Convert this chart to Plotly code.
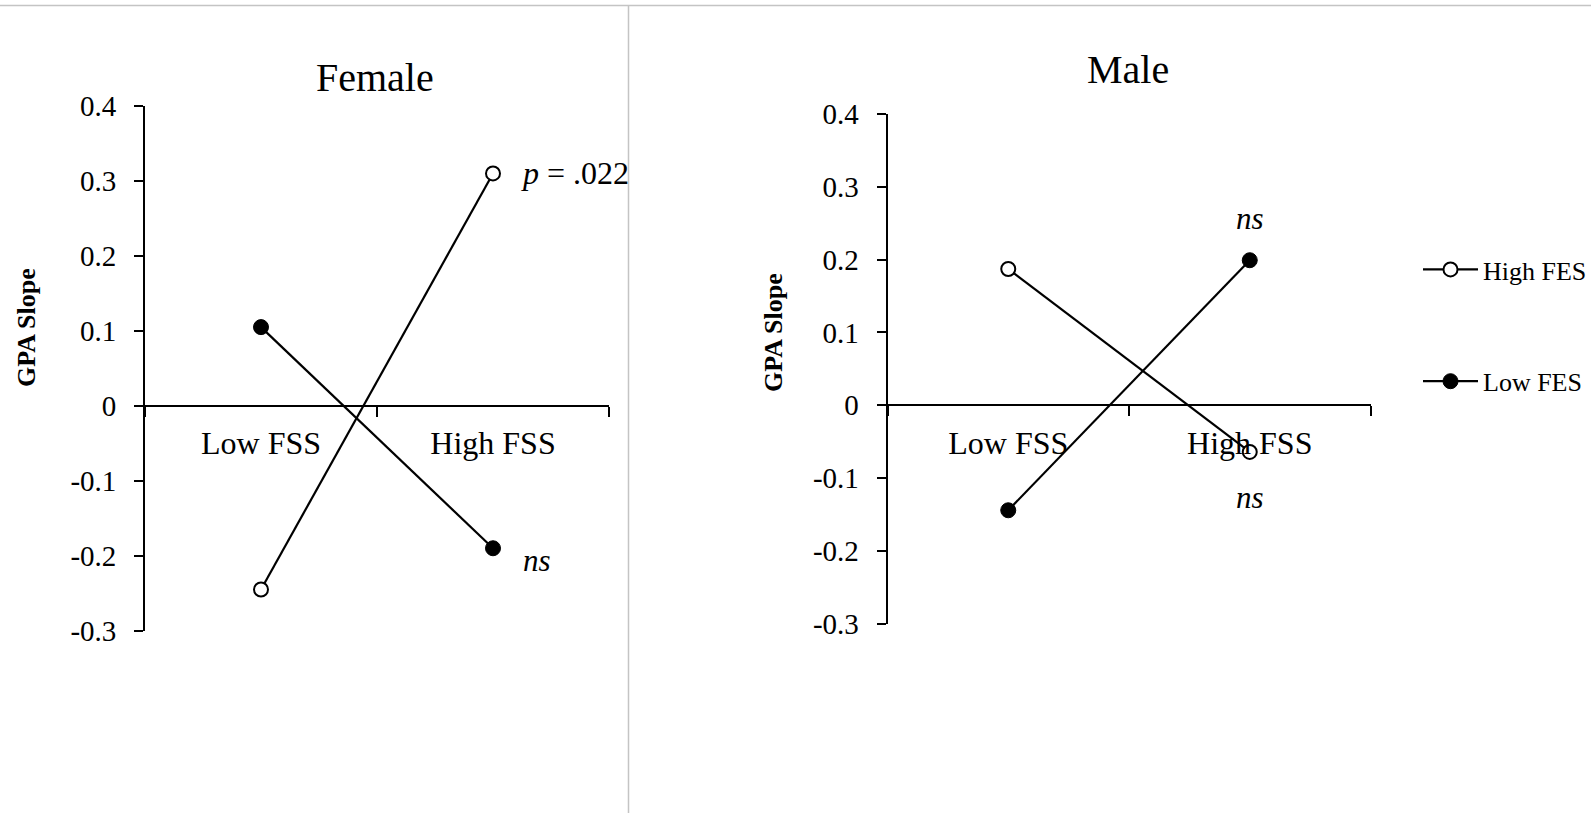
import plotly.graph_objects as go

# ---- data ----
categories = ["Low FSS", "High FSS"]
female_high_fes = [-0.245, 0.31]
female_low_fes = [0.105, -0.19]
male_high_fes = [0.187, -0.064]
male_low_fes = [-0.144, 0.199]
y_ticks = [-0.3, -0.2, -0.1, 0, 0.1, 0.2, 0.3, 0.4]
y_tick_text = ["-0.3", "-0.2", "-0.1", "0", "0.1", "0.2", "0.3", "0.4"]

W, H = 1591, 813
FONT = "Liberation Serif, Times New Roman, serif"


def px_x(p):
    return p / W


def px_y(p):
    return 1 - p / H


Y_RANGE = [-0.3, 0.4]
panels = {
    "f": dict(xdom=[px_x(145), px_x(609)], ydom=[px_y(630.7), px_y(106)]),
    "m": dict(xdom=[px_x(887.5), px_x(1370.5)], ydom=[px_y(624), px_y(113.7)]),
}


def zero_pos(ydom):
    return ydom[0] + (0 - Y_RANGE[0]) / (Y_RANGE[1] - Y_RANGE[0]) * (ydom[1] - ydom[0])


fig = go.Figure()

open_marker = dict(symbol="circle", size=14, color="white", line=dict(color="black", width=2))
fill_marker = dict(symbol="circle", size=15, color="black", line=dict(color="black", width=1))
line_style = dict(color="black", width=2.2)

fig.add_trace(go.Scatter(x=categories, y=female_high_fes, mode="lines+markers", name="High FES",
                         marker=open_marker, line=line_style, xaxis="x", yaxis="y",
                         legendgroup="a", showlegend=True))
fig.add_trace(go.Scatter(x=categories, y=female_low_fes, mode="lines+markers", name="Low FES",
                         marker=fill_marker, line=line_style, xaxis="x", yaxis="y",
                         legendgroup="b", showlegend=True))
fig.add_trace(go.Scatter(x=categories, y=male_high_fes, mode="lines+markers", name="High FES",
                         marker=open_marker, line=line_style, xaxis="x2", yaxis="y2",
                         legendgroup="a", showlegend=False))
fig.add_trace(go.Scatter(x=categories, y=male_low_fes, mode="lines+markers", name="Low FES",
                         marker=fill_marker, line=line_style, xaxis="x2", yaxis="y2",
                         legendgroup="b", showlegend=False))

ytick_font = dict(family=FONT, size=29, color="black")
xtick_font = dict(family=FONT, size=32, color="black")


def xaxis_cfg(p):
    return dict(domain=p["xdom"], type="category", categoryorder="array", categoryarray=categories,
                range=[-0.5, 1.5], tickson="boundaries", ticks="outside", ticklen=10, tickwidth=1.5,
                tickcolor="black", showline=True, linecolor="black", linewidth=1.7, showgrid=False,
                zeroline=False, anchor="free", position=zero_pos(p["ydom"]), tickfont=xtick_font,
                ticklabelstandoff=9, automargin=False, fixedrange=True)


def yaxis_cfg(p, xname):
    return dict(domain=p["ydom"], range=Y_RANGE, tickvals=y_ticks, ticktext=y_tick_text,
                ticks="outside", ticklen=9, tickwidth=1.5, tickcolor="black", showline=True,
                linecolor="black", linewidth=1.7, showgrid=False, zeroline=False, anchor=xname,
                tickfont=ytick_font, ticklabelstandoff=12, automargin=False, fixedrange=True)


annotations = [
    dict(text="Female", x=px_x(375), y=px_y(77), xref="paper", yref="paper", showarrow=False,
         font=dict(family=FONT, size=40, color="black"), xanchor="center", yanchor="middle"),
    dict(text="Male", x=px_x(1128), y=px_y(70), xref="paper", yref="paper", showarrow=False,
         font=dict(family=FONT, size=40, color="black"), xanchor="center", yanchor="middle"),
    dict(text="<b>GPA Slope</b>", x=px_x(26), y=px_y(328), xref="paper", yref="paper",
         showarrow=False, textangle=-90, font=dict(family=FONT, size=26, color="black"),
         xanchor="center", yanchor="middle"),
    dict(text="<b>GPA Slope</b>", x=px_x(773), y=px_y(333), xref="paper", yref="paper",
         showarrow=False, textangle=-90, font=dict(family=FONT, size=26, color="black"),
         xanchor="center", yanchor="middle"),
    dict(text="<i>p</i> = .022", x=categories[1], y=female_high_fes[1], xref="x", yref="y",
         showarrow=False, xanchor="left", yanchor="middle", xshift=26,
         font=dict(family=FONT, size=32, color="black")),
    dict(text="<i>ns</i>", x=categories[1], y=female_low_fes[1], xref="x", yref="y",
         showarrow=False, xanchor="left", yanchor="middle", xshift=28, yshift=-12,
         font=dict(family=FONT, size=31, color="black")),
    dict(text="<i>ns</i>", x=categories[1], y=male_low_fes[1], xref="x2", yref="y2",
         showarrow=False, xanchor="center", yanchor="middle", yshift=42,
         font=dict(family=FONT, size=31, color="black")),
    dict(text="<i>ns</i>", x=categories[1], y=male_high_fes[1], xref="x2", yref="y2",
         showarrow=False, xanchor="center", yanchor="middle", yshift=-46,
         font=dict(family=FONT, size=31, color="black")),
]

shapes = [
    dict(type="line", xref="paper", yref="paper", x0=0, x1=1, y0=px_y(5.5), y1=px_y(5.5),
         line=dict(color="#c4c4c4", width=1.5)),
    dict(type="line", xref="paper", yref="paper", x0=px_x(628.5), x1=px_x(628.5), y0=0,
         y1=px_y(5.5), line=dict(color="#c4c4c4", width=1.5)),
]

fig.update_layout(
    template="none",
    width=W, height=H, margin=dict(l=0, r=0, t=0, b=0, pad=0, autoexpand=False),
    paper_bgcolor="white", plot_bgcolor="white",
    font=dict(family=FONT, color="black"),
    xaxis=xaxis_cfg(panels["f"]), yaxis=yaxis_cfg(panels["f"], "x"),
    xaxis2=xaxis_cfg(panels["m"]), yaxis2=yaxis_cfg(panels["m"], "x2"),
    annotations=annotations, shapes=shapes,
    legend=dict(x=px_x(1418), y=px_y(246), xanchor="left", yanchor="top",
                font=dict(family=FONT, size=26, color="black"), tracegroupgap=75,
                bgcolor="rgba(0,0,0,0)", borderwidth=0, itemwidth=55),
)

fig.write_html("out.html", config={"displayModeBar": False},
               post_script="document.body.style.margin='0';")
